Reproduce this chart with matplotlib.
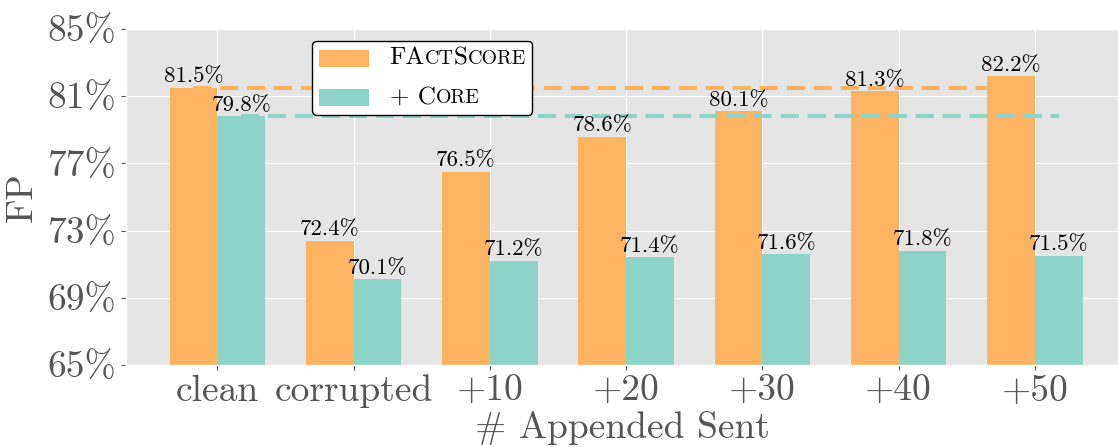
import numpy as np
import matplotlib
matplotlib.use('Agg')
import matplotlib.pyplot as plt
from matplotlib.offsetbox import AnchoredOffsetbox, HPacker, VPacker, TextArea, DrawingArea
from matplotlib.patches import Rectangle

# データ
categories = ['clean', 'corrupted', '+10', '+20', '+30', '+40', '+50']
factscore = [81.5, 72.4, 76.5, 78.6, 80.1, 81.3, 82.2]
core = [79.8, 70.1, 71.2, 71.4, 71.6, 71.8, 71.5]
yticks = [65, 69, 73, 77, 81, 85]
series_names = ['FActScore', '+ Core']

plt.style.use('ggplot')
plt.rcParams['font.family'] = ['cmr10', 'DejaVu Serif']
plt.rcParams['axes.formatter.use_mathtext'] = True

colors = ['#FDB462', '#8DD3C7']
width = 0.35

fig = plt.figure(figsize=(11.18, 4.47), dpi=100)
ax = fig.add_axes([0.1127, 0.1834, 0.8873, 0.7517])

x = np.arange(len(categories))
for i, vals in enumerate([factscore, core]):
    offset = (i - 0.5) * width
    ax.bar(x + offset, vals, width, color=colors[i], zorder=2)
    for xi, v in zip(x, vals):
        ax.annotate(f'{v:.1f}%', (xi + offset, v), xytext=(0, 1), textcoords='offset points',
                    ha='center', va='bottom', fontsize=16.5, color='black', zorder=4)
    # clean の値を基準線として表示
    ax.plot([x[0] + offset, x[-1] + offset], [vals[0], vals[0]], color=colors[i],
            lw=2.9, linestyle=(0, (4.5, 2.2)), zorder=3)

ax.set_ylim(65, 85)
ax.set_yticks(yticks)
ax.set_yticklabels([f'{v}%' for v in yticks], fontsize=27)
ax.set_xlim(-0.67, 6.61)
ax.set_xticks(x)
ax.set_xticklabels(categories, fontsize=27)
ax.set_ylabel('FP', fontsize=27, labelpad=6)
ax.set_xlabel('# Appended Sent', fontsize=27, labelpad=2)


def smallcaps(text, size):
    # 小文字を小さい大文字で描く
    parts = []
    buf, low = '', None
    for ch in text:
        is_low = ch.islower()
        if low is not None and is_low != low:
            parts.append((buf, low))
            buf = ''
        buf += ch
        low = is_low
    parts.append((buf, low))
    boxes = [TextArea(s.upper() if l else s,
                      textprops=dict(fontsize=size * 0.8 if l else size, family='cmr10', color='black'))
             for s, l in parts]
    return HPacker(children=boxes, pad=0, sep=0, align='baseline')


rows = []
for name, c in zip(series_names, colors):
    da = DrawingArea(36, 12, 0, 0)
    da.add_artist(Rectangle((0, 0), 36, 12, facecolor=c, edgecolor='none'))
    rows.append(HPacker(children=[da, smallcaps(name, 18)], pad=0, sep=15, align='center'))
box = VPacker(children=rows, pad=0, sep=12, align='left')
legend = AnchoredOffsetbox(loc='upper left', child=box, pad=0.45, borderpad=0, frameon=True,
                           bbox_to_anchor=(0.188, 0.964), bbox_transform=ax.transAxes)
legend.patch.set_boxstyle('round,pad=0,rounding_size=0.3')
legend.patch.set_edgecolor('black')
legend.patch.set_facecolor('white')
legend.patch.set_linewidth(1)
legend.set_zorder(5)
ax.add_artist(legend)

fig.savefig('out.png', dpi=100)
